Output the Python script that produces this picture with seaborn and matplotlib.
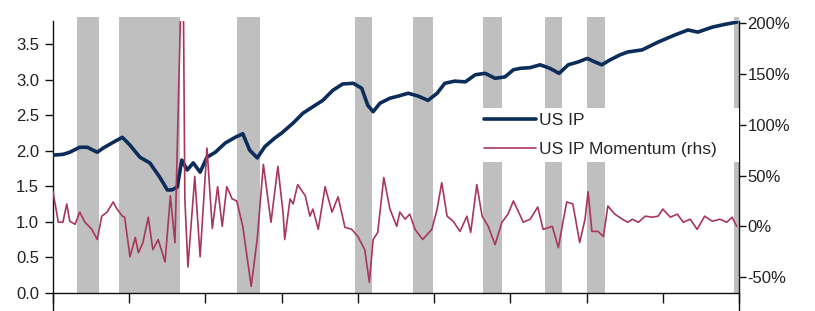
import matplotlib
matplotlib.use("Agg")
import numpy as np
import pandas as pd
import seaborn as sns
from matplotlib import pyplot as plt
from matplotlib.ticker import FuncFormatter

# US IP (log level, lhs)
ip_year = [1920.0, 1921.3, 1922.2, 1923.5, 1924.5, 1925.8, 1926.6, 1927.9, 1929.1, 1930.1,
           1931.4, 1932.7, 1934.0, 1935.0, 1935.6, 1936.3, 1936.9, 1937.6, 1938.4, 1939.3,
           1940.2, 1941.3, 1942.6, 1943.9, 1944.9, 1945.8, 1946.8, 1947.8, 1949.1, 1950.0,
           1951.5, 1952.8, 1954.1, 1955.4, 1956.7, 1958.0, 1959.4, 1960.5, 1961.3, 1962.0,
           1962.9, 1964.2, 1965.3, 1966.6, 1967.9, 1969.2, 1970.4, 1971.4, 1972.7, 1974.1,
           1975.4, 1976.7, 1978.0, 1979.3, 1980.4, 1981.3, 1982.6, 1983.9, 1985.2, 1986.4,
           1987.6, 1988.9, 1990.1, 1991.1, 1992.0, 1993.1, 1994.4, 1995.4, 1997.3, 1999.4,
           2001.6, 2003.3, 2004.6, 2006.5, 2008.2, 2009.7]
ip_value = [1.94, 1.95, 1.98, 2.05, 2.05, 1.98, 2.04, 2.12, 2.19, 2.08,
            1.91, 1.83, 1.63, 1.45, 1.45, 1.49, 1.87, 1.73, 1.83, 1.70,
            1.91, 1.98, 2.11, 2.19, 2.24, 2.01, 1.90, 2.06, 2.18, 2.25,
            2.39, 2.53, 2.62, 2.71, 2.85, 2.94, 2.95, 2.88, 2.64, 2.55,
            2.67, 2.74, 2.77, 2.81, 2.77, 2.71, 2.81, 2.95, 2.98, 2.97,
            3.07, 3.09, 3.02, 3.04, 3.14, 3.16, 3.17, 3.21, 3.16, 3.09,
            3.21, 3.25, 3.30, 3.25, 3.21, 3.28, 3.35, 3.39, 3.42, 3.53,
            3.63, 3.70, 3.67, 3.74, 3.78, 3.81]

# US IP momentum (%, rhs)
mom_year = [1920.0, 1920.7, 1921.3, 1921.8, 1922.2, 1922.9, 1923.5, 1924.2, 1925.1, 1925.8,
            1926.4, 1927.1, 1927.9, 1928.4, 1929.1, 1929.4, 1930.1, 1930.8, 1931.2, 1931.8,
            1932.5, 1933.1, 1933.8, 1934.7, 1935.4, 1936.0, 1936.8, 1937.1, 1937.3, 1937.7,
            1938.6, 1939.3, 1940.2, 1940.9, 1941.6, 1942.2, 1942.8, 1943.5, 1944.1, 1944.9,
            1946.0, 1946.8, 1947.6, 1948.6, 1949.5, 1950.2, 1950.4, 1951.1, 1951.5, 1952.1,
            1953.1, 1953.7, 1954.1, 1954.8, 1955.7, 1956.6, 1957.4, 1958.3, 1959.2, 1960.0,
            1960.9, 1961.5, 1962.0, 1962.6, 1963.4, 1964.2, 1965.1, 1965.5, 1966.2, 1966.8,
            1967.5, 1968.5, 1969.7, 1970.4, 1971.0, 1971.7, 1972.5, 1973.4, 1974.3, 1974.8,
            1975.6, 1976.3, 1977.1, 1978.0, 1978.9, 1979.7, 1980.4, 1980.9, 1981.7, 1982.6,
            1983.6, 1984.3, 1985.5, 1986.3, 1986.9, 1987.4, 1988.2, 1989.1, 1989.8, 1990.2,
            1990.7, 1991.5, 1992.2, 1992.8, 1993.7, 1994.7, 1995.4, 1996.0, 1996.8, 1997.7,
            1998.6, 1999.4, 2000.0, 2001.0, 2001.9, 2002.7, 2003.6, 2004.5, 2005.5, 2006.5,
            2007.5, 2008.4, 2009.1, 2009.7]
mom_value = [34, 4, 4, 22, 5, 2, 14, 4, -3, -13,
             10, 14, 24, 17, 10, 9, -30, -11, -26, -16,
             9, -23, -13, -35, 30, -16, 230, 230, 27, -40,
             49, -30, 77, -2, 39, 0, 39, 27, 25, 0,
             -59, -12, 61, 4, 59, 12, -13, 27, 22, 41,
             30, 10, 17, -3, 39, 14, 29, -1, -3, -10,
             -23, -55, -13, -6, 48, 17, 0, 14, 7, 12,
             -3, -13, -3, 17, 43, 10, 5, -5, 10, -6,
             41, 10, 0, -18, 4, 12, 25, 17, 4, 7,
             19, -3, 0, -21, 4, 24, 22, -16, 7, 34,
             -5, -5, -10, 20, 12, 7, 4, 7, 4, 10,
             9, 10, 17, 9, 12, 4, 7, -3, 10, 5,
             7, 4, 9, 0]

# shaded periods
rec_start = [1923.1, 1928.7, 1944.1, 1959.6, 1967.2, 1976.4, 1984.6, 1990.1, 2009.3]
rec_end = [1926.0, 1936.7, 1947.2, 1961.9, 1969.9, 1978.9, 1986.8, 1992.4, 2010.0]

ip = pd.DataFrame({"year": ip_year, "value": ip_value})
mom = pd.DataFrame({"year": mom_year, "value": mom_value})
rec = pd.DataFrame({"start": rec_start, "end": rec_end})

sns.set_style("white")
plt.rcParams["font.family"] = ["Liberation Sans", "DejaVu Sans"]

fig = plt.figure(figsize=(8.15, 3.11), dpi=100)
ax = fig.add_axes([53 / 815, -19 / 311, 686 / 815, 309 / 311])
ax2 = ax.twinx()

ax.bar(rec["start"], 3.88, width=rec["end"] - rec["start"], align="edge",
       color="#bfbfbf", linewidth=0, clip_on=False, zorder=1)

sns.lineplot(data=ip, x="year", y="value", ax=ax, color="#0c2c5a", linewidth=2.6,
             label="US IP", legend=False, zorder=3)
sns.lineplot(data=mom, x="year", y="value", ax=ax2, color="#a8375a", linewidth=1.2,
             label="US IP Momentum (rhs)", legend=False)

ax.set_xlim(1920, 2010)
ax.set_ylim(-0.52, 3.826)
ax2.set_ylim(-102, 202)
ax.set_xticks(np.arange(1920, 2011, 10))
ax.set_yticks(np.arange(0, 3.6, 0.5))
ax2.set_yticks(np.arange(-50, 201, 50))
ax.yaxis.set_major_formatter(FuncFormatter(lambda v, p: f"{v:.1f}"))
ax2.yaxis.set_major_formatter(FuncFormatter(lambda v, p: f"{v:.0f}%"))
ax.set_xlabel("")
ax.set_ylabel("")
ax2.set_ylabel("")

ax.spines["bottom"].set_position(("data", 0))
for s in ["top", "right"]:
    ax.spines[s].set_visible(False)
for s in ["top", "left", "bottom"]:
    ax2.spines[s].set_visible(False)
for sp in [ax.spines["left"], ax.spines["bottom"], ax2.spines["right"]]:
    sp.set_color("#111111")
    sp.set_linewidth(1.0)

ax.tick_params(axis="x", direction="out", length=7, width=1, color="#111111",
               labelbottom=False, bottom=True)
ax.tick_params(axis="y", direction="out", length=6, width=1, color="#111111",
               labelsize=12, labelcolor="#222222", pad=4, left=True)
ax2.tick_params(axis="y", direction="out", length=5, width=1, color="#111111",
                labelsize=12, labelcolor="#222222", pad=1, right=True)

h1, l1 = ax.get_legend_handles_labels()
h2, l2 = ax2.get_legend_handles_labels()
leg = ax2.legend(h1 + h2, l1 + l2, loc="upper left", mode="expand",
                 bbox_to_anchor=(0.62, 0.548, 0.38, 0.17), frameon=True,
                 facecolor="white", edgecolor="none", framealpha=1, fancybox=False,
                 fontsize=12.5, handlelength=3.0, handletextpad=0.2, labelspacing=0.75,
                 borderpad=0.3, borderaxespad=0)
leg.set_zorder(10)

fig.savefig("out.png", dpi=100)
